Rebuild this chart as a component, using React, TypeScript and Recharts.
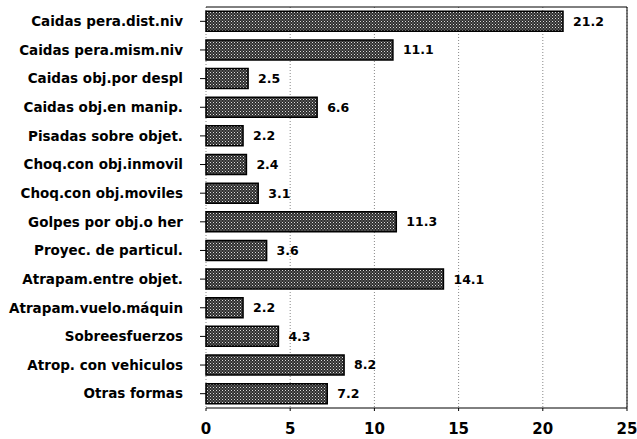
import { BarChart, Bar, XAxis, YAxis, CartesianGrid, LabelList } from "recharts";

const categories = [
    "Caidas pera.dist.niv",
    "Caidas pera.mism.niv",
    "Caidas obj.por despl",
    "Caidas obj.en manip.",
    "Pisadas sobre objet.",
    "Choq.con obj.inmovil",
    "Choq.con obj.moviles",
    "Golpes por obj.o her",
    "Proyec. de particul.",
    "Atrapam.entre objet.",
    "Atrapam.vuelo.máquin",
    "Sobreesfuerzos",
    "Atrop. con vehiculos",
    "Otras formas",
];
const values = [21.2, 11.1, 2.5, 6.6, 2.2, 2.4, 3.1, 11.3, 3.6, 14.1, 2.2, 4.3, 8.2, 7.2];
const xTicks = [0, 5, 10, 15, 20, 25];

const data = categories.map((name, i) => ({ name, value: values[i] }));

const labelFont = "'DejaVu Sans', sans-serif";

export default function App() {
    return (
        <div style={{ position: "absolute", left: 0, top: 0, background: "#fff" }}>
            <BarChart
                width={637}
                height={439}
                data={data}
                layout="vertical"
                margin={{ top: 6, right: 9, left: 0, bottom: 0 }}
                barCategoryGap="15%"
            >
                <defs>
                    <pattern id="hatch" width="3" height="3" patternUnits="userSpaceOnUse">
                        <rect width="3" height="3" fill="#2e2e2e" />
                        <rect x="0" y="0" width="1" height="1" fill="#dcdcdc" />
                        <rect x="1.5" y="1.5" width="1" height="1" fill="#a8a8a8" />
                    </pattern>
                </defs>
                <CartesianGrid
                    horizontal={false}
                    stroke="#888"
                    strokeDasharray="1 2"
                    xAxisId={0}
                    yAxisId={0}
                />
                <XAxis
                    type="number"
                    domain={[0, 25]}
                    ticks={xTicks}
                    height={31}
                    stroke="#000"
                    tickSize={3}
                    tick={{ fill: "#000", fontSize: 15, fontWeight: 700, fontFamily: labelFont }}
                    tickMargin={12}
                />
                <XAxis
                    xAxisId="top"
                    orientation="top"
                    type="number"
                    domain={[0, 25]}
                    height={1}
                    tick={false}
                    tickLine={false}
                    axisLine={{ stroke: "#000" }}
                />
                <YAxis
                    type="category"
                    dataKey="name"
                    width={206}
                    stroke="#000"
                    axisLine={false}
                    tickSize={6}
                    interval={0}
                    tick={{ fill: "#000", fontSize: 13.5, fontWeight: 700, fontFamily: labelFont }}
                    tickMargin={17}
                />
                <YAxis
                    yAxisId="right"
                    orientation="right"
                    type="category"
                    dataKey="name"
                    width={1}
                    tick={false}
                    tickLine={false}
                    axisLine={{ stroke: "#000" }}
                />
                <Bar
                    dataKey="value"
                    fill="url(#hatch)"
                    stroke="#000"
                    strokeWidth={1.5}
                    isAnimationActive={false}
                >
                    <LabelList
                        dataKey="value"
                        position="right"
                        offset={10}
                        fill="#000"
                        fontSize={12.5}
                        fontWeight={700}
                        fontFamily={labelFont}
                    />
                </Bar>
            </BarChart>
        </div>
    );
}
